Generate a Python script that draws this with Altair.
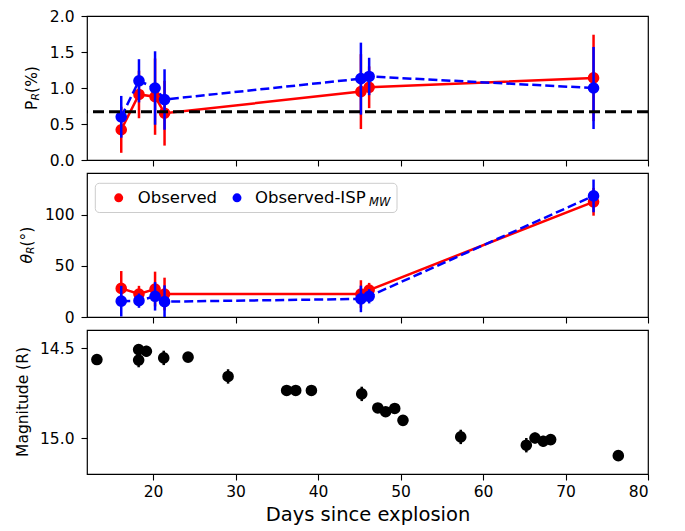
import altair as alt
import pandas as pd

# ---------------- data ----------------
pol_days = [16.15, 18.3, 20.25, 21.4, 45.2, 46.2, 73.4]

p_obs = [0.42, 0.91, 0.88, 0.65, 0.95, 1.01, 1.14]
p_obs_err = [0.32, 0.33, 0.53, 0.45, 0.52, 0.29, 0.60]
p_isp = [0.60, 1.10, 1.00, 0.84, 1.13, 1.16, 1.00]
p_isp_err = [0.29, 0.30, 0.51, 0.42, 0.50, 0.26, 0.57]

theta_obs = [28.0, 22.5, 27.4, 22.5, 22.5, 26.4, 112.8]
theta_obs_err = [17, 8, 17, 16, 13.5, 7, 13.6]
theta_isp = [15.5, 16.0, 20.3, 15.0, 17.7, 20.3, 118.6]
theta_isp_err = [15, 7, 14, 16, 13, 7, 16]

isp_mw_level = 0.67

phot_days = [13.2, 18.26, 18.26, 19.2, 21.3, 24.25, 29.1, 36.2, 37.3, 39.2, 45.3,
             47.25, 48.2, 49.3, 50.3, 57.3, 65.25, 66.3, 67.3, 68.2, 76.4]
mag_r = [14.564, 14.509, 14.567, 14.518, 14.555, 14.551, 14.658, 14.736, 14.736, 14.736, 14.755,
         14.833, 14.854, 14.836, 14.902, 14.994, 15.040, 15.000, 15.018, 15.009, 15.098]
mag_err = [0.02, 0.03, 0.04, 0.03, 0.04, 0.02, 0.04, 0.02, 0.02, 0.02, 0.04,
           0.02, 0.02, 0.02, 0.02, 0.04, 0.04, 0.03, 0.03, 0.03, 0.02]

x_ticks = [20, 30, 40, 50, 60, 70, 80]
p_ticks = [0.0, 0.5, 1.0, 1.5, 2.0]
theta_ticks = [0, 50, 100]
mag_ticks = [14.5, 15.0]

legend_labels = ["Observed", "Observed-ISP", "MW"]

# ---------------- layout constants ----------------
W = 561
H = 144
FONT = "DejaVu Sans"
FS = 15.5
RED = "#ff0000"
BLUE = "#0000ff"


def frame(days, vals, errs):
    return pd.DataFrame({
        "day": days,
        "val": vals,
        "lo": [v - e for v, e in zip(vals, errs)],
        "hi": [v + e for v, e in zip(vals, errs)],
    })


x_scale = alt.Scale(domain=[12, 80], nice=False, zero=False)


def x_enc(show_labels):
    if show_labels:
        ax = alt.Axis(values=x_ticks, title="Days since explosion", labels=True,
                      format="d", titleFontSize=19.5, titleFont=FONT, titleFontWeight="normal",
                      titlePadding=6, titleColor="black", labelPadding=4)
    else:
        ax = alt.Axis(values=x_ticks, title=None, labels=False)
    return alt.X("day:Q", scale=x_scale, axis=ax)


def y_scale(domain, reverse=False):
    return alt.Scale(domain=domain, nice=False, zero=False, reverse=reverse)


def y_axis(ticks, fmt):
    return alt.Axis(values=ticks, format=fmt, title=None, labelPadding=7)


def series_layers(df, color, dash, x, sc, ax):
    y = alt.Y("val:Q", scale=sc, axis=ax)
    bars = alt.Chart(df).mark_rule(color=color, strokeWidth=2.5, clip=True).encode(
        x=x, y=alt.Y("lo:Q", scale=sc, axis=ax), y2="hi:Q")
    line_kw = dict(color=color, strokeWidth=2.5, clip=True)
    if dash:
        line_kw["strokeDash"] = dash
    line = alt.Chart(df).mark_line(**line_kw).encode(x=x, y=y, order="day:Q")
    pts = alt.Chart(df).mark_circle(color=color, size=135, opacity=1, clip=True).encode(x=x, y=y)
    return [bars, line, pts]


one = pd.DataFrame({"a": [0]})


def text_piece(txt, x, y, size=FS, style="normal", angle=270, align="left"):
    return alt.Chart(one).mark_text(text=txt, font=FONT, fontSize=size, fontStyle=style,
                                    angle=angle, align=align, baseline="alphabetic",
                                    color="black").encode(x=alt.value(x), y=alt.value(y))


# ---------------- top panel: polarization degree ----------------
xa = x_enc(False)
sp = y_scale([0, 2.0])
ap = y_axis(p_ticks, ".1f")
df_po = frame(pol_days, p_obs, p_obs_err)
df_pi = frame(pol_days, p_isp, p_isp_err)

isp_rule = alt.Chart(one).mark_rule(color="black", strokeWidth=2.8, strokeDash=[11, 5]).encode(
    y=alt.Y(datum=isp_mw_level, scale=sp, axis=ap))

# title P_R(%)
mid = H / 2
w_p, w_r, w_par = 0.603 * FS, 0.695 * 11, 1.73 * FS
tot = w_p + w_r + w_par
start = mid + tot / 2
p_title = [
    text_piece("P", -50.5, start),
    text_piece("R", -48.5, start - w_p, size=11, style="italic"),
    text_piece("(%)", -50.5, start - w_p - w_r),
]

top = alt.layer(
    *series_layers(df_po, RED, None, xa, sp, ap),
    *series_layers(df_pi, BLUE, [9, 4], xa, sp, ap),
    isp_rule,
    *p_title,
).properties(width=W, height=H)

# ---------------- middle panel: polarization angle ----------------
st = y_scale([0, 141])
at = y_axis(theta_ticks, "d")
df_to = frame(pol_days, theta_obs, theta_obs_err)
df_ti = frame(pol_days, theta_isp, theta_isp_err)

w_th, w_deg = 0.602 * FS, 1.28 * FS
tot_t = w_th + w_r + w_deg
start_t = mid + tot_t / 2
t_title = [
    text_piece("θ", -55, start_t, style="italic"),
    text_piece("R", -53, start_t - w_th, size=11, style="italic"),
    text_piece("(°)", -55, start_t - w_th - w_r),
]

legend_box = alt.Chart(one).mark_rect(fill="white", fillOpacity=0.8, stroke="#cccccc",
                                      strokeWidth=1, cornerRadius=4).encode(
    x=alt.value(8.3), x2=alt.value(310), y=alt.value(10.3), y2=alt.value(39.5))
leg_red = alt.Chart(one).mark_circle(color=RED, size=80, opacity=1).encode(
    x=alt.value(31.7), y=alt.value(24.8))
leg_blue = alt.Chart(one).mark_circle(color=BLUE, size=80, opacity=1).encode(
    x=alt.value(150), y=alt.value(24.8))
leg_t1 = text_piece(legend_labels[0], 50.7, 30, size=16.5, angle=0)
leg_t2 = text_piece(legend_labels[1], 168, 30, size=16.5, angle=0)
leg_t3 = text_piece(legend_labels[2], 282, 32.5, size=11.5, style="italic", angle=0)

middle = alt.layer(
    *series_layers(df_to, RED, None, xa, st, at),
    *series_layers(df_ti, BLUE, [9, 4], xa, st, at),
    *t_title,
    legend_box, leg_red, leg_blue, leg_t1, leg_t2, leg_t3,
).properties(width=W, height=H)

# ---------------- bottom panel: photometry ----------------
xb = x_enc(True)
sm = y_scale([14.4, 15.2], reverse=True)
am = y_axis(mag_ticks, ".1f")
df_m = frame(phot_days, mag_r, mag_err)

m_bars = alt.Chart(df_m).mark_rule(color="black", strokeWidth=2.5, clip=True).encode(
    x=xb, y=alt.Y("lo:Q", scale=sm, axis=am), y2="hi:Q")
m_pts = alt.Chart(df_m).mark_circle(color="black", size=135, opacity=1, clip=True).encode(
    x=xb, y=alt.Y("val:Q", scale=sm, axis=am))
m_title = text_piece("Magnitude (R)", -59, mid, align="center")

bottom = alt.layer(m_bars, m_pts, m_title).properties(width=W, height=H)

chart = alt.vconcat(top, middle, bottom, spacing=13, bounds="flush").properties(
    padding={"left": 7, "top": 0, "right": 5, "bottom": 0},
    background="white",
).configure_view(
    stroke="black", strokeWidth=1.2
).configure_axis(
    grid=False, domain=False, ticks=True, tickColor="black", tickSize=6, tickWidth=1.1,
    labelFont=FONT, labelFontSize=FS, labelColor="black", labelPadding=5,
)

chart.save("out.html", embed_options={"renderer": "svg", "actions": False})
